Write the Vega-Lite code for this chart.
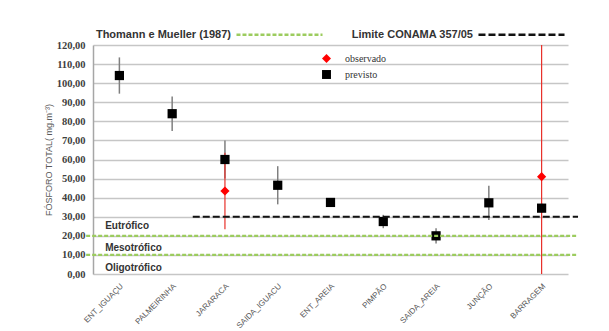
{
  "$schema": "https://vega.github.io/schema/vega-lite/v6.json",
  "width": 475,
  "height": 229,
  "autosize": {"type": "none"},
  "padding": {"left": 93, "top": 45, "right": 41, "bottom": 57},
  "background": "white",
  "config": {
    "view": {"stroke": null},
    "font": "Liberation Sans",
    "axisY": {
      "tickCount": 12,
      "labelExpr": "replace(format(datum.value, '.2f'), '.', ',')",
      "labelFont": "Liberation Serif",
      "labelFontWeight": "bold",
      "labelFontSize": 10.5,
      "labelColor": "#404040",
      "labelPadding": 8,
      "labelOverlap": false,
      "ticks": false,
      "domainColor": "#a6a6a6",
      "domainWidth": 1.5,
      "grid": true,
      "gridColor": "#c6c6c6",
      "gridWidth": 1.3,
      "titleFont": "Liberation Sans",
      "titleFontWeight": "normal",
      "titleFontSize": 9,
      "titleColor": "#595959",
      "titlePadding": 3
    }
  },
  "datasets": {
    "pontos": [
      {"ponto": "ENT_IGUAÇU", "tipo": "previsto", "valor": 104, "min": 94.5, "max": 113.5},
      {"ponto": "PALMEIRINHA", "tipo": "previsto", "valor": 84, "min": 75, "max": 93},
      {"ponto": "JARARACA", "tipo": "previsto", "valor": 60, "min": 50, "max": 70},
      {"ponto": "JARARACA", "tipo": "observado", "valor": 43.5, "min": 23.5, "max": 63.5},
      {"ponto": "SAIDA_IGUACU", "tipo": "previsto", "valor": 46.5, "min": 36.5, "max": 56.5},
      {"ponto": "ENT_AREIA", "tipo": "previsto", "valor": 37.5, "min": 36.5, "max": 38.5},
      {"ponto": "PIMPÃO", "tipo": "previsto", "valor": 27.5, "min": 24, "max": 31},
      {"ponto": "SAIDA_AREIA", "tipo": "previsto", "valor": 20, "min": 16, "max": 24},
      {"ponto": "JUNÇÃO", "tipo": "previsto", "valor": 37.3, "min": 28.3, "max": 46.3},
      {"ponto": "BARRAGEM", "tipo": "previsto", "valor": 34.5, "min": 32, "max": 37},
      {"ponto": "BARRAGEM", "tipo": "observado", "valor": 51, "min": 0, "max": 120}
    ],
    "limites": [
      {"ref": "Thomann e Mueller (1987)", "valor": 20, "inicio": -0.13, "fim": 9.17},
      {"ref": "Thomann e Mueller (1987)", "valor": 10, "inicio": -0.13, "fim": 9.17},
      {"ref": "Limite CONAMA  357/05", "valor": 30, "inicio": 1.89, "fim": 9.19}
    ],
    "zonas": [
      {"zona": "Eutrófico", "valor": 25},
      {"zona": "Mesotrófico", "valor": 13.5},
      {"zona": "Oligotrófico", "valor": 3}
    ]
  },
  "layer": [
    {
      "data": {"name": "pontos"},
      "encoding": {
        "x": {
          "field": "ponto",
          "type": "nominal",
          "scale": {
            "domain": ["ENT_IGUAÇU", "PALMEIRINHA", "JARARACA", "SAIDA_IGUACU", "ENT_AREIA", "PIMPÃO", "SAIDA_AREIA", "JUNÇÃO", "BARRAGEM"],
            "paddingInner": 0,
            "paddingOuter": 0
          },
          "axis": {
            "title": null,
            "labelAngle": -45,
            "labelAlign": "right",
            "labelBaseline": "top",
            "labelFontSize": 8,
            "labelColor": "#595959",
            "labelPadding": 8,
            "ticks": false,
            "domain": false,
            "grid": false
          }
        }
      },
      "layer": [
        {
          "transform": [{"filter": "datum.tipo === 'previsto'"}],
          "mark": {"type": "rule", "color": "#7f7f7f", "strokeWidth": 1.5},
          "encoding": {
            "y": {
              "field": "min",
              "type": "quantitative",
              "title": "FÓSFORO TOTAL( mg.m⁻³)",
              "scale": {"domain": [0, 120], "nice": false}
            },
            "y2": {"field": "max"}
          }
        },
        {
          "transform": [{"filter": "datum.tipo === 'observado'"}],
          "mark": {"type": "rule", "color": "#e8302a", "strokeWidth": 1.2},
          "encoding": {
            "y": {"field": "min", "type": "quantitative", "title": "FÓSFORO TOTAL( mg.m⁻³)"},
            "y2": {"field": "max"}
          }
        },
        {
          "mark": {"type": "point", "filled": true, "opacity": 1, "size": 85},
          "encoding": {
            "y": {"field": "valor", "type": "quantitative", "title": "FÓSFORO TOTAL( mg.m⁻³)"},
            "color": {
              "field": "tipo",
              "type": "nominal",
              "scale": {"domain": ["observado", "previsto"], "range": ["#ff0000", "#000000"]},
              "legend": {
                "orient": "none",
                "legendX": 228,
                "legendY": 8,
                "title": null,
                "labelFont": "Liberation Serif",
                "labelFontSize": 10,
                "labelColor": "#333333",
                "symbolSize": 80,
                "labelOffset": 13,
                "rowPadding": 5
              }
            },
            "shape": {
              "field": "tipo",
              "type": "nominal",
              "scale": {"domain": ["observado", "previsto"], "range": ["diamond", "square"]}
            }
          }
        }
      ]
    },
    {
      "data": {"name": "limites"},
      "mark": {"type": "rule", "strokeWidth": 2.2},
      "encoding": {
        "x": {"field": "inicio", "type": "quantitative", "scale": {"domain": [0, 9], "nice": false, "zero": false}, "axis": null},
        "x2": {"field": "fim"},
        "y": {"field": "valor", "type": "quantitative", "title": "FÓSFORO TOTAL( mg.m⁻³)"},
        "stroke": {
          "field": "ref",
          "type": "nominal",
          "scale": {"domain": ["Thomann e Mueller (1987)", "Limite CONAMA  357/05"], "range": ["#9ccc5e", "#111111"]},
          "legend": {
            "orient": "none",
            "direction": "horizontal",
            "legendX": 142,
            "legendY": -55,
            "title": null,
            "symbolType": "stroke",
            "symbolSize": 7400,
            "symbolStrokeWidth": 2.5,
            "labelAlign": "right",
            "labelOffset": -93,
            "labelFont": "Liberation Sans",
            "labelFontWeight": "bold",
            "labelFontSize": 11,
            "labelColor": "#333333",
            "columnPadding": 20
          }
        },
        "strokeDash": {
          "field": "ref",
          "type": "nominal",
          "scale": {"domain": ["Thomann e Mueller (1987)", "Limite CONAMA  357/05"], "range": [[4, 2], [7, 3]]}
        }
      }
    },
    {
      "data": {"name": "zonas"},
      "mark": {"type": "text", "align": "left", "baseline": "middle", "fontWeight": "bold", "fontSize": 10, "color": "#333333"},
      "encoding": {
        "x": {"datum": 0.23, "type": "quantitative", "scale": {"domain": [0, 9], "nice": false, "zero": false}, "axis": null},
        "y": {"field": "valor", "type": "quantitative", "title": "FÓSFORO TOTAL( mg.m⁻³)"},
        "text": {"field": "zona"}
      }
    }
  ],
  "resolve": {"scale": {"x": "independent"}}
}
